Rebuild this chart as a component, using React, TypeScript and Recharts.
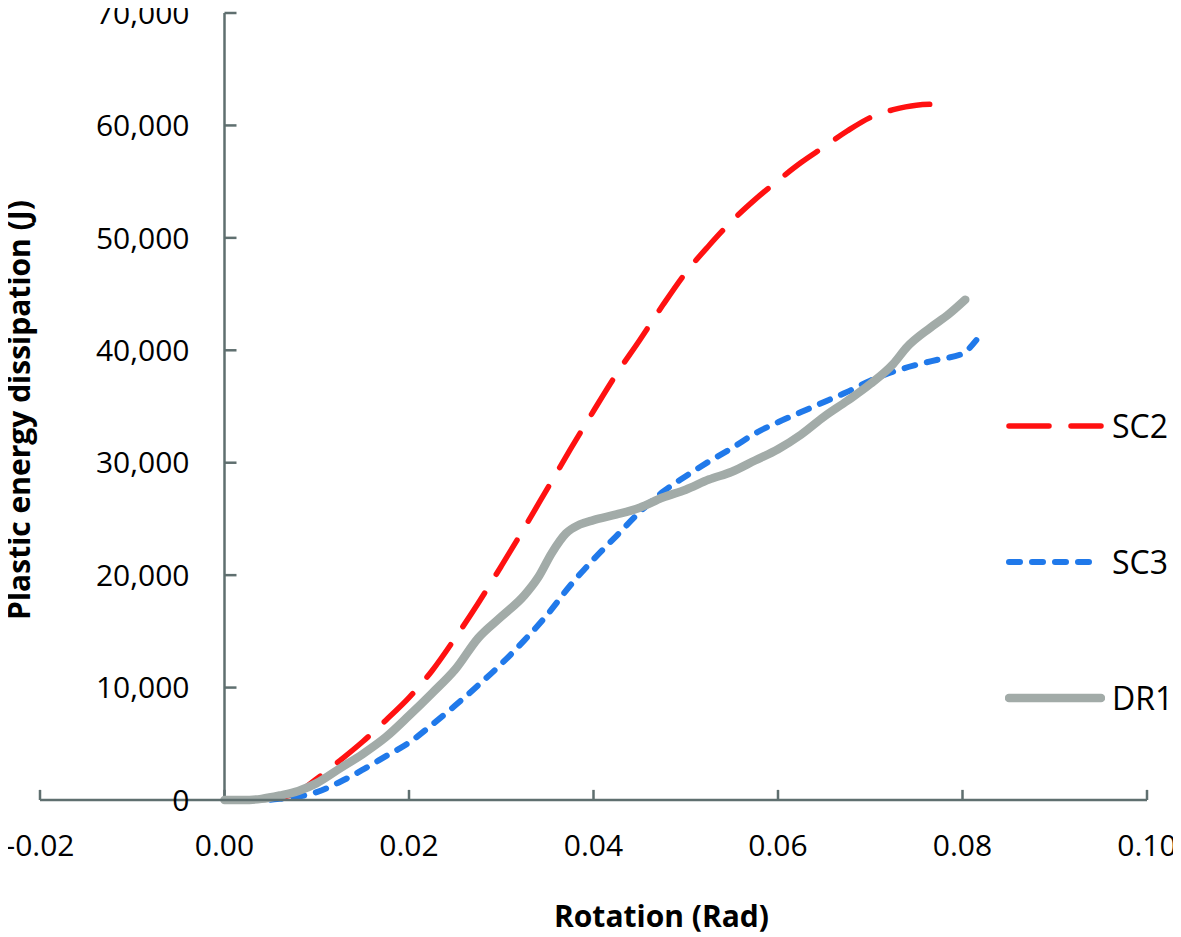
import { LineChart, Line, XAxis, YAxis, ReferenceLine, Label } from "recharts";

// axis ticks
const rotationTicks = [-0.02, 0, 0.02, 0.04, 0.06, 0.08, 0.1];
const energyTicks = [0, 10000, 20000, 30000, 40000, 50000, 60000, 70000];

// SC2 (red long dash)
const sc2Rotation = [0, 0.003, 0.005, 0.0075, 0.01, 0.0125, 0.015, 0.0175, 0.02, 0.0225, 0.025, 0.0275, 0.03, 0.0325, 0.035, 0.0375, 0.04, 0.0425, 0.045, 0.0475, 0.05, 0.0525, 0.055, 0.0575, 0.06, 0.0625, 0.065, 0.0675, 0.07, 0.0725, 0.075, 0.0775];
const sc2Energy = [0, 0, 150, 500, 1900, 3500, 5200, 7100, 9100, 11500, 14400, 17500, 20800, 24200, 27700, 31200, 34600, 37900, 40900, 44000, 46900, 49300, 51500, 53400, 55100, 56700, 58100, 59500, 60700, 61400, 61800, 61900];

// SC3 (blue short dash)
const sc3Rotation = [0, 0.004, 0.006, 0.008, 0.01, 0.0125, 0.015, 0.0175, 0.02, 0.0225, 0.025, 0.0275, 0.03, 0.0325, 0.035, 0.0375, 0.04, 0.0425, 0.045, 0.0475, 0.05, 0.0525, 0.055, 0.0575, 0.06, 0.0625, 0.065, 0.0675, 0.07, 0.0725, 0.075, 0.0775, 0.08, 0.0815];
const sc3Energy = [0, 0, 100, 300, 700, 1600, 2700, 3900, 5100, 6700, 8400, 10200, 12100, 14200, 16500, 19100, 21400, 23500, 25600, 27400, 28800, 30100, 31300, 32600, 33600, 34500, 35400, 36300, 37300, 38100, 38700, 39200, 39700, 40900];

// DR1 (grey solid)
const dr1Rotation = [0, 0.002, 0.004, 0.006, 0.008, 0.01, 0.0125, 0.015, 0.0175, 0.02, 0.0225, 0.025, 0.0275, 0.03, 0.0325, 0.034, 0.0355, 0.037, 0.0385, 0.04, 0.0425, 0.045, 0.0475, 0.05, 0.0525, 0.055, 0.0575, 0.06, 0.0625, 0.065, 0.0675, 0.07, 0.0725, 0.074, 0.0765, 0.0785, 0.0803];
const dr1Energy = [0, 0, 100, 400, 800, 1500, 2800, 4100, 5600, 7500, 9500, 11600, 14400, 16300, 18200, 19800, 22000, 23700, 24500, 24900, 25400, 26000, 26900, 27600, 28500, 29200, 30200, 31200, 32500, 34100, 35500, 37000, 38800, 40300, 42000, 43200, 44500];

const toPoints = (xs: number[], ys: number[]) => xs.map((x, i) => ({ x, y: ys[i] }));

const series = [
  { name: "SC2", data: toPoints(sc2Rotation, sc2Energy), color: "#ff1111", width: 5.5, dash: "40 22" },
  { name: "SC3", data: toPoints(sc3Rotation, sc3Energy), color: "#2079ea", width: 6, dash: "11 12" },
  { name: "DR1", data: toPoints(dr1Rotation, dr1Energy), color: "#a2aba8", width: 8.5, dash: undefined },
];

const AXIS = "#5f6f6f";
const FONT = "'Open Sans', sans-serif";
const W = 1173;
const H = 929;

const fmtRotation = (v: number) => v.toFixed(2);
const fmtEnergy = (v: number) => v.toLocaleString("en-US");

export default function App() {
  return (
    <div style={{ position: "relative", width: W, height: H, fontFamily: FONT }}>
      <style>{`.recharts-surface { overflow: visible; }`}</style>
      <LineChart
        width={W}
        height={H}
        margin={{ top: 5, right: 34, left: 32, bottom: 0 }}
        style={{ fontFamily: FONT }}
      >
        <XAxis
          type="number"
          dataKey="x"
          domain={[-0.02, 0.1]}
          ticks={rotationTicks}
          interval={0}
          tickFormatter={fmtRotation}
          height={137}
          tickSize={0}
          tickMargin={35}
          tickLine={false}
          axisLine={{ stroke: AXIS, strokeWidth: 2.5 }}
          tick={{ fill: "#000", fontSize: 30 }}
          allowDataOverflow
        >
          <Label
            value="Rotation (Rad)"
            position="insideBottom"
            offset={10}
            dx={68}
            style={{ fontSize: 30, fontWeight: 700, fill: "#000" }}
          />
        </XAxis>
        <YAxis
          type="number"
          dataKey="y"
          domain={[0, 70000]}
          ticks={energyTicks}
          width={0}
          tick={false}
          tickLine={false}
          axisLine={false}
        />

        {/* y axis drawn at rotation = 0 */}
        <ReferenceLine x={0} stroke={AXIS} strokeWidth={2.5} />
        {energyTicks.map((v) => (
          <ReferenceLine
            key={`yt-${v}`}
            segment={[
              { x: 0, y: v },
              { x: 0.0013, y: v },
            ]}
            stroke={AXIS}
            strokeWidth={2.5}
            ifOverflow="visible"
            label={{ value: fmtEnergy(v), position: "left", offset: 35, fill: "#000", fontSize: 30 }}
          />
        ))}
        {rotationTicks.map((v) => (
          <ReferenceLine
            key={`xt-${v}`}
            segment={[
              { x: v, y: 0 },
              { x: v, y: 900 },
            ]}
            stroke={AXIS}
            strokeWidth={2.5}
            ifOverflow="visible"
          />
        ))}

        {series.map((s) => (
          <Line
            key={s.name}
            data={s.data}
            dataKey="y"
            name={s.name}
            type="monotone"
            stroke={s.color}
            strokeWidth={s.width}
            strokeDasharray={s.dash}
            strokeLinecap="round"
            dot={false}
            activeDot={false}
            isAnimationActive={false}
          />
        ))}
      </LineChart>

      {/* y axis title */}
      <div
        style={{
          position: "absolute",
          left: 11,
          top: 402,
          transform: "translate(-50%, -50%) rotate(-90deg)",
          whiteSpace: "nowrap",
          fontSize: 30,
          fontWeight: 700,
          color: "#000",
          lineHeight: "34px",
        }}
      >
        Plastic energy dissipation (J)
      </div>

      {/* legend */}
      {series.map((s, i) => (
        <div
          key={s.name}
          style={{
            position: "absolute",
            left: 997,
            top: [418, 554, 690][i] - 25,
            height: 50,
            display: "flex",
            alignItems: "center",
          }}
        >
          <svg width={100} height={20}>
            <line
              x1={4}
              x2={96}
              y1={10}
              y2={10}
              stroke={s.color}
              strokeWidth={s.width}
              strokeDasharray={s.dash}
              strokeLinecap="round"
            />
          </svg>
          <span style={{ fontSize: 32, marginLeft: 7, color: "#000", lineHeight: "50px" }}>{s.name}</span>
        </div>
      ))}
    </div>
  );
}
